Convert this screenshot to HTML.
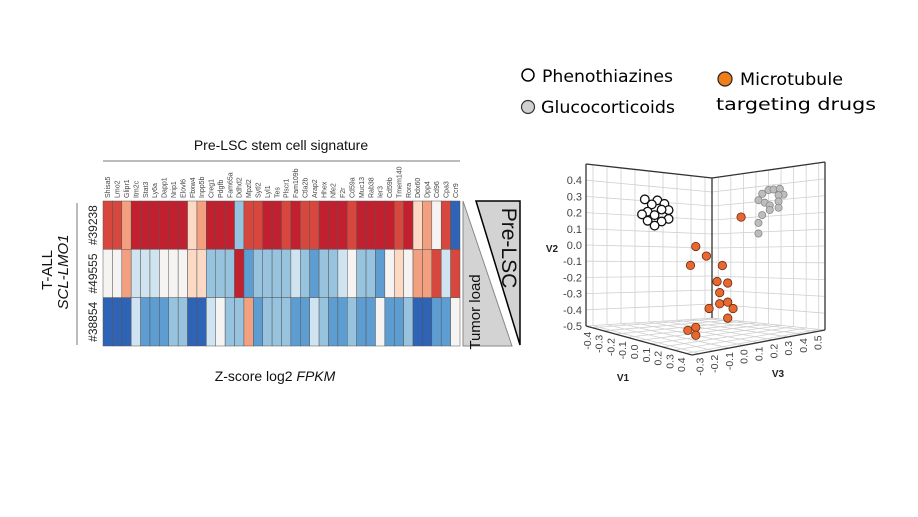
<!DOCTYPE html>
<html><head><meta charset="utf-8"><style>
html,body{margin:0;padding:0;background:#fff;}
svg{display:block;font-family:"Liberation Sans",sans-serif;}
</style></head><body>
<svg id="fig" width="918" height="517" viewBox="0 0 918 517" xmlns="http://www.w3.org/2000/svg">
<g id="heat"></g>
<g id="pca"></g>
<g id="legend">
  <circle cx="528" cy="75" r="6" fill="#fff" stroke="#000" stroke-width="1.5"/>
  <text x="542" y="82" font-family="DejaVu Sans, sans-serif" font-size="17" textLength="131" lengthAdjust="spacingAndGlyphs">Phenothiazines</text>
  <circle cx="528" cy="107" r="6.5" fill="#d0d0d0" stroke="#333" stroke-width="1.2"/>
  <text x="541" y="113" font-family="DejaVu Sans, sans-serif" font-size="17" textLength="134" lengthAdjust="spacingAndGlyphs">Glucocorticoids</text>
  <circle cx="725" cy="79" r="7" fill="#f07f1a" stroke="#222" stroke-width="1.2"/>
  <text x="740" y="85" font-family="DejaVu Sans, sans-serif" font-size="17" textLength="103" lengthAdjust="spacingAndGlyphs">Microtubule</text>
  <text x="716" y="110" font-family="DejaVu Sans, sans-serif" font-size="17" textLength="160" lengthAdjust="spacingAndGlyphs">targeting drugs</text>
</g>
</svg>
<script>
const NS="http://www.w3.org/2000/svg";
const genes=["Shisa5","Lmo2","Glipr1","Itm2c","Stat3","Ly6a","Dapp1","Nrip1","Elovl6","Fbxw4","Inpp5b","Creg1","Pdgfb","Fam65a","Ddhd2","Mpzl2","Sytl2","Lyl1","Tes","Plscr1","Fam109b","Ctla2b","Arap2","Hhex","Nfe2","F2r","Cd59a","Muc13","Rab38","Ier3","Cd59b","Tmem140","Rora","Ddx60","Dpp4","Cd96","Cpa3","Ccr9"];
const samples=["#39238","#49555","#38854"];
const zrow1=["r","r","o","R","R","R","R","R","R","p","o","R","R","R","m","r","r","R","R","r","R","r","r","R","R","R","r","R","R","R","R","r","R","p","o","w","r","B"];
const zrow2=["w","w","o","l","l","l","w","w","w","p","p","m","m","m","R","b","m","m","m","m","l","m","b","m","m","l","w","m","m","b","w","p","w","o","o","r","l","r"];
const zrow3=["B","B","B","l","b","b","b","m","m","B","B","l","w","m","m","o","b","m","m","m","b","b","l","m","b","b","m","b","b","w","b","b","m","B","B","b","b","w"];
const colorMap={R:"#c21f2f",r:"#d8473d",o:"#f2a07f",p:"#fcd9c5",w:"#f6f4f2",l:"#cfe4f0",m:"#97c3df",b:"#5e9dd2",B:"#2f63b6"};

function mk(tag,attrs,parent,txt){const e=document.createElementNS(NS,tag);for(const k in attrs)e.setAttribute(k,attrs[k]);if(txt!==undefined)e.textContent=txt;parent.appendChild(e);return e;}

// ---------- heatmap ----------
const H=document.getElementById('heat');
const hx0=103,hx1=460,hy0=201,hy1=346;
const cw=(hx1-hx0)/genes.length, ch=(hy1-hy0)/samples.length;
const rows=[zrow1,zrow2,zrow3];
rows.forEach((row,ri)=>{row.forEach((c,ci)=>{
  const r=mk('rect',{x:hx0+ci*cw,y:hy0+ri*ch,width:cw,height:ch,fill:colorMap[c],stroke:"#555","stroke-width":0.5},H);
  
  
});});
genes.forEach((g,ci)=>{
  const t=mk('text',{x:0,y:0,transform:`translate(${hx0+(ci+0.5)*cw+2.5},198) rotate(-90)`,"font-size":7,fill:"#444"},H,g);
  
  
});
samples.forEach((s,ri)=>{
  const t=mk('text',{x:0,y:0,transform:`translate(${97},${hy0+(ri+0.5)*ch}) rotate(-90)`,"font-size":12,"text-anchor":"middle",fill:"#222"},H,s);
  
  
});
let e;
e=mk('line',{x1:103,y1:161,x2:460,y2:161,stroke:"#777","stroke-width":1},H);


e=mk('text',{x:281,y:150,"font-size":14,"text-anchor":"middle",fill:"#111"},H,"Pre-LSC stem cell signature");


e=mk('line',{x1:77,y1:203,x2:77,y2:345,stroke:"#777","stroke-width":1},H);


e=mk('text',{x:0,y:0,transform:"translate(52,270) rotate(-90)","font-size":15,"text-anchor":"middle",fill:"#111"},H,"T-ALL");


e=mk('text',{x:0,y:0,transform:"translate(68,272) rotate(-90)","font-size":15,"font-style":"italic","text-anchor":"middle",fill:"#111"},H,"SCL-LMO1");


e=mk('text',{x:275,y:381,"font-size":14,"text-anchor":"middle",fill:"#111"},H,"");


e.innerHTML='Z-score log2 <tspan font-style="italic">FPKM</tspan>';
e=mk('polygon',{points:"463,201 463,346 512,346",fill:"#d3d3d3",stroke:"#888","stroke-width":1},H);


e=mk('polygon',{points:"476,201 520,201 520,345",fill:"#d3d3d3",stroke:"#000","stroke-width":1.5},H);


e=mk('text',{x:0,y:0,transform:"translate(480,312) rotate(-90)","font-size":15,"text-anchor":"middle",fill:"#111"},H,"Tumor load");


e=mk('text',{x:0,y:0,transform:"translate(502,248) rotate(90)","font-size":21,"text-anchor":"middle",fill:"#111"},H,"Pre-LSC");



// ---------- 3D PCA ----------
const v1Ticks=[-0.4,-0.3,-0.2,-0.1,0.0,0.1,0.2,0.3,0.4];
const v2Ticks=[-0.5,-0.4,-0.3,-0.2,-0.1,0.0,0.1,0.2,0.3,0.4];
const v3Ticks=[-0.3,-0.2,-0.1,0.0,0.1,0.2,0.3,0.4,0.5];
const phenoV3=[0.07,0.16,0.21,0.12,0.24,0.09,0.19,0.05,0.14,0.24,0.09,0.19,0.14];
const phenoV2=[0.31,0.31,0.29,0.28,0.25,0.23,0.25,0.21,0.21,0.19,0.17,0.17,0.14];
const glucoV1=[-0.05,0.0,0.04,0.09,0.12,0.08,-0.08,-0.03,0.01,0.08,0.08,0.01,-0.05,-0.08,-0.08];
const glucoV2=[0.35,0.37,0.37,0.37,0.33,0.33,0.31,0.29,0.27,0.29,0.25,0.24,0.21,0.16,0.09];
const microV1=[0.14,-0.03,0.01,-0.05,0.07,0.05,0.09,0.06,0.06,0.09,0.11,0.02,0.09,-0.06,-0.03,-0.03];
const microV2=[0.22,0.04,-0.02,-0.08,-0.08,-0.18,-0.19,-0.25,-0.32,-0.31,-0.35,-0.35,-0.41,-0.49,-0.47,-0.52];
const microV3=[0.24,0.07,0.11,0.05,0.17,0.15,0.19,0.16,0.16,0.19,0.21,0.12,0.19,0.04,0.07,0.07];
const V1MIN=-0.45,V1MAX=0.45,V3MIN=-0.35,V3MAX=0.55,V2MIN=-0.5,V2MAX=0.5;
const CL=[586,326],CF=[692,355],CR=[825,330],CK=[712,318];
const HL=162,HF=165,HR=168,HK=140;
function proj(v1,v2,v3){
  const a=(v1-V1MIN)/(V1MAX-V1MIN), b=(v3-V3MIN)/(V3MAX-V3MIN);
  const wL=(1-a)*(1-b),wF=a*(1-b),wR=a*b,wK=(1-a)*b;
  const x=wL*CL[0]+wF*CF[0]+wR*CR[0]+wK*CK[0];
  const fy=wL*CL[1]+wF*CF[1]+wR*CR[1]+wK*CK[1];
  const h=wL*HL+wF*HF+wR*HR+wK*HK;
  return [x, fy-(v2-V2MIN)/(V2MAX-V2MIN)*h];
}
const P=document.getElementById('pca');
function ln(p,q,st,w,name){const l=mk('line',{x1:p[0],y1:p[1],x2:q[0],y2:q[1],stroke:st,"stroke-width":w},P);return l;}
const gc="#d0d0d0";
// left wall (v1=min)
v2Ticks.concat([V2MAX]).forEach(v=>ln(proj(V1MIN,v,V3MIN),proj(V1MIN,v,V3MAX),gc,0.8,'grid-line'));
v3Ticks.forEach(v=>ln(proj(V1MIN,V2MIN,v),proj(V1MIN,V2MAX,v),gc,0.8,'grid-line'));
// right wall (v3=max)
v2Ticks.concat([V2MAX]).forEach(v=>ln(proj(V1MIN,v,V3MAX),proj(V1MAX,v,V3MAX),gc,0.8,'grid-line'));
v1Ticks.forEach(v=>ln(proj(v,V2MIN,V3MAX),proj(v,V2MAX,V3MAX),gc,0.8,'grid-line'));
// floor
v1Ticks.forEach(v=>ln(proj(v,V2MIN,V3MIN),proj(v,V2MIN,V3MAX),gc,0.8,'grid-line'));
v3Ticks.forEach(v=>ln(proj(V1MIN,V2MIN,v),proj(V1MAX,V2MIN,v),gc,0.8,'grid-line'));
// box edges
const ec="#333";
ln(proj(V1MIN,V2MIN,V3MIN),proj(V1MIN,V2MAX,V3MIN),ec,1.3,'box-edge');
ln(proj(V1MIN,V2MIN,V3MAX),proj(V1MIN,V2MAX,V3MAX),ec,1.3,'box-edge');
ln(proj(V1MAX,V2MIN,V3MAX),proj(V1MAX,V2MAX,V3MAX),ec,1.3,'box-edge');
ln(proj(V1MIN,V2MAX,V3MIN),proj(V1MIN,V2MAX,V3MAX),ec,1.3,'box-edge');
ln(proj(V1MIN,V2MAX,V3MAX),proj(V1MAX,V2MAX,V3MAX),ec,1.3,'box-edge');
ln(proj(V1MIN,V2MIN,V3MIN),proj(V1MAX,V2MIN,V3MIN),ec,1.3,'box-edge');
ln(proj(V1MAX,V2MIN,V3MIN),proj(V1MAX,V2MIN,V3MAX),ec,1.3,'box-edge');
// tick labels
v2Ticks.forEach(v=>{const p=proj(V1MIN,v,V3MIN);const t=mk('text',{x:p[0]-4,y:p[1]+4,"font-size":11,"text-anchor":"end",fill:"#444"},P,v.toFixed(1));
  });
v1Ticks.forEach(v=>{const p=proj(v,V2MIN,V3MIN);const t=mk('text',{x:0,y:0,transform:`translate(${p[0]-1},${p[1]+4}) rotate(-90)`,"font-size":10.5,"text-anchor":"end",fill:"#444"},P,v.toFixed(1));
  });
v3Ticks.forEach(v=>{const p=proj(V1MAX,V2MIN,v);const t=mk('text',{x:0,y:0,transform:`translate(${p[0]+4},${p[1]+4}) rotate(-90)`,"font-size":10.5,"text-anchor":"end",fill:"#444"},P,v.toFixed(1));
  });
e=mk('text',{x:552,y:252,"font-size":10,"font-weight":"bold","text-anchor":"middle",fill:"#222"},P,"V2");

e=mk('text',{x:623,y:381,"font-size":10,"font-weight":"bold","text-anchor":"middle",fill:"#222"},P,"V1");

e=mk('text',{x:778,y:377,"font-size":10,"font-weight":"bold","text-anchor":"middle",fill:"#222"},P,"V3");

// points
phenoV3.forEach((v3,i)=>{const p=proj(V1MIN,phenoV2[i],v3);const c=mk('circle',{cx:p[0],cy:p[1],r:4.3,fill:"#fff",stroke:"#111","stroke-width":1.3},P);
  });
glucoV1.forEach((v1,i)=>{const p=proj(v1,glucoV2[i],V3MAX);const c=mk('circle',{cx:p[0],cy:p[1],r:3.6,fill:"#bdbdbd",stroke:"#888","stroke-width":0.8},P);
  });
microV1.forEach((v1,i)=>{const p=proj(v1,microV2[i],microV3[i]);const c=mk('circle',{cx:p[0],cy:p[1],r:4.2,fill:"#e8692f",stroke:"#6a2a10","stroke-width":0.8},P);
  });
</script>
</body></html>
